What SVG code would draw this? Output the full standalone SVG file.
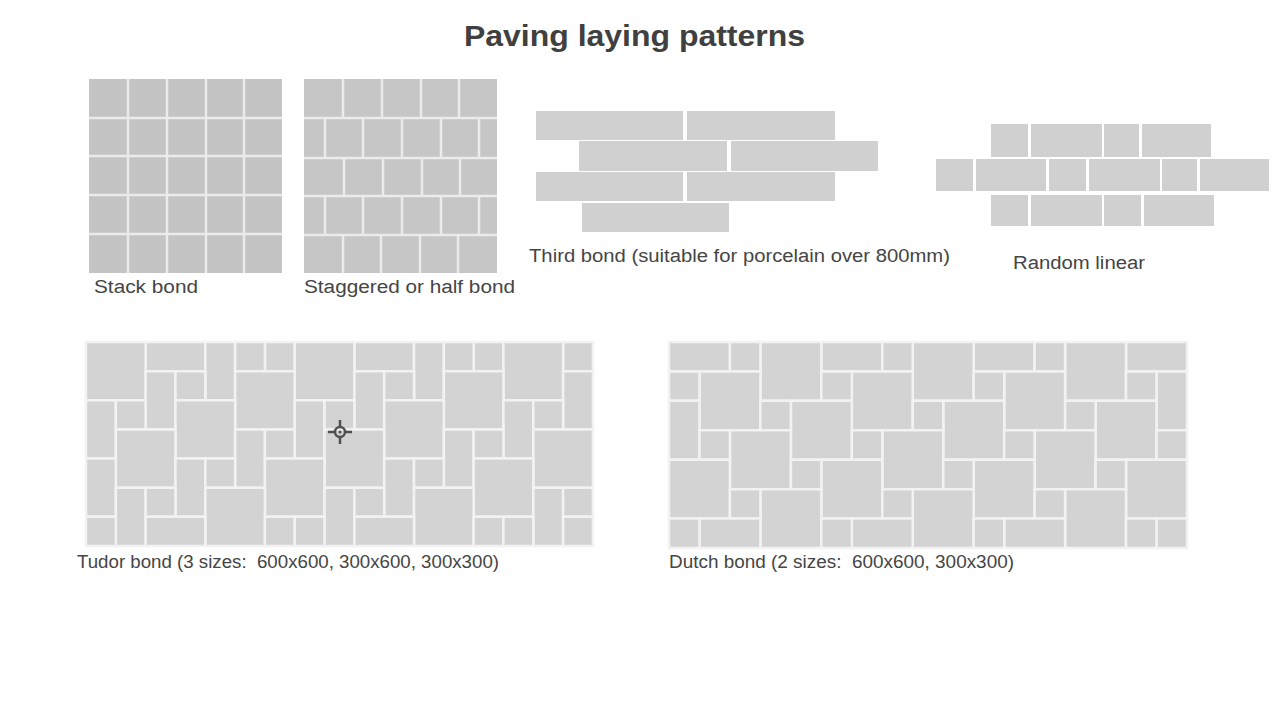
<svg xmlns="http://www.w3.org/2000/svg" width="1280" height="720" viewBox="0 0 1280 720">
<style>
.title{font-family:"Liberation Sans",Arial,sans-serif;font-weight:bold;font-size:30px;fill:#404040}
.lbl{font-family:"Liberation Sans",Arial,sans-serif;font-size:18px;fill:#454545}
.j{stroke:#ebebeb;stroke-width:2.5}
.tb{fill:#d0d0d0}
.tt{fill:#d3d3d3;stroke:#f2f2f2;stroke-width:2.5;vector-effect:non-scaling-stroke}
</style>
<rect width="1280" height="720" fill="#ffffff"/>
<text class="title" x="464" y="46" textLength="341" lengthAdjust="spacingAndGlyphs">Paving laying patterns</text>

<g id="stack-bond">
<rect x="89" y="79" width="193" height="194" fill="#c4c4c4"/>
<g class="j">
<line x1="128" y1="79" x2="128" y2="273"/><line x1="167" y1="79" x2="167" y2="273"/><line x1="206" y1="79" x2="206" y2="273"/><line x1="244" y1="79" x2="244" y2="273"/>
<line x1="89" y1="118" x2="282" y2="118"/><line x1="89" y1="156" x2="282" y2="156"/><line x1="89" y1="195" x2="282" y2="195"/><line x1="89" y1="234" x2="282" y2="234"/>
</g>
<text class="lbl" x="94" y="293" textLength="104" lengthAdjust="spacingAndGlyphs">Stack bond</text>
</g>

<g id="staggered-bond">
<rect x="304" y="79" width="193" height="194" fill="#c6c6c6"/>
<g class="j">
<line x1="304" y1="118" x2="497" y2="118"/><line x1="304" y1="158" x2="497" y2="158"/><line x1="304" y1="196" x2="497" y2="196"/><line x1="304" y1="235" x2="497" y2="235"/>
<line x1="343" y1="79" x2="343" y2="118"/><line x1="382" y1="79" x2="382" y2="118"/><line x1="421" y1="79" x2="421" y2="118"/><line x1="459" y1="79" x2="459" y2="118"/>
<line x1="325" y1="118" x2="325" y2="158"/><line x1="363" y1="118" x2="363" y2="158"/><line x1="402" y1="118" x2="402" y2="158"/><line x1="441" y1="118" x2="441" y2="158"/><line x1="479" y1="118" x2="479" y2="158"/>
<line x1="344" y1="158" x2="344" y2="196"/><line x1="383" y1="158" x2="383" y2="196"/><line x1="422" y1="158" x2="422" y2="196"/><line x1="460" y1="158" x2="460" y2="196"/>
<line x1="325" y1="196" x2="325" y2="235"/><line x1="363" y1="196" x2="363" y2="235"/><line x1="402" y1="196" x2="402" y2="235"/><line x1="441" y1="196" x2="441" y2="235"/><line x1="479" y1="196" x2="479" y2="235"/>
<line x1="343" y1="235" x2="343" y2="273"/><line x1="381" y1="235" x2="381" y2="273"/><line x1="420" y1="235" x2="420" y2="273"/><line x1="458" y1="235" x2="458" y2="273"/>
</g>
<text class="lbl" x="304" y="293" textLength="211" lengthAdjust="spacingAndGlyphs">Staggered or half bond</text>
</g>

<g id="third-bond">
<g class="tb">
<rect x="536" y="111" width="147" height="29"/><rect x="687" y="111" width="148" height="29"/>
<rect x="579" y="141" width="148" height="30"/><rect x="731" y="141" width="147" height="30"/>
<rect x="536" y="172" width="147" height="29"/><rect x="687" y="172" width="148" height="29"/>
<rect x="582" y="203" width="147" height="29"/>
</g>
<text class="lbl" x="529" y="262" textLength="421" lengthAdjust="spacingAndGlyphs">Third bond (suitable for porcelain over 800mm)</text>
</g>

<g id="random-linear">
<g class="tb">
<rect x="991" y="124" width="37" height="33"/><rect x="1031" y="124" width="71" height="33"/><rect x="1104" y="124" width="35" height="33"/><rect x="1142" y="124" width="69" height="33"/>
<rect x="936" y="159" width="37" height="32"/><rect x="976" y="159" width="70" height="32"/><rect x="1049" y="159" width="37" height="32"/><rect x="1089" y="159" width="71" height="32"/><rect x="1162" y="159" width="35" height="32"/><rect x="1200" y="159" width="69" height="32"/>
<rect x="991" y="195" width="37" height="31"/><rect x="1031" y="195" width="71" height="31"/><rect x="1104" y="195" width="37" height="31"/><rect x="1144" y="195" width="70" height="31"/>
</g>
<text class="lbl" x="1013" y="269" textLength="132" lengthAdjust="spacingAndGlyphs">Random linear</text>
</g>

<g id="tudor-bond">
<g transform="translate(86,342) scale(29.82,29.14)">
<rect class="tt" x="2" y="0" width="2" height="1"/><rect class="tt" x="9" y="0" width="2" height="1"/><rect class="tt" x="16" y="0" width="1" height="1"/><rect class="tt" x="6" y="0" width="1" height="1"/><rect class="tt" x="13" y="0" width="1" height="1"/>
<rect class="tt" x="0" y="0" width="2" height="2"/><rect class="tt" x="7" y="0" width="2" height="2"/><rect class="tt" x="14" y="0" width="2" height="2"/><rect class="tt" x="4" y="0" width="1" height="2"/><rect class="tt" x="11" y="0" width="1" height="2"/><rect class="tt" x="5" y="0" width="1" height="1"/><rect class="tt" x="12" y="0" width="1" height="1"/>
<rect class="tt" x="5" y="1" width="2" height="2"/><rect class="tt" x="12" y="1" width="2" height="2"/><rect class="tt" x="2" y="1" width="1" height="2"/><rect class="tt" x="9" y="1" width="1" height="2"/><rect class="tt" x="16" y="1" width="1" height="2"/><rect class="tt" x="3" y="1" width="1" height="1"/><rect class="tt" x="10" y="1" width="1" height="1"/>
<rect class="tt" x="3" y="2" width="2" height="2"/><rect class="tt" x="10" y="2" width="2" height="2"/><rect class="tt" x="0" y="2" width="1" height="2"/><rect class="tt" x="7" y="2" width="1" height="2"/><rect class="tt" x="14" y="2" width="1" height="2"/><rect class="tt" x="1" y="2" width="1" height="1"/><rect class="tt" x="8" y="2" width="1" height="1"/><rect class="tt" x="15" y="2" width="1" height="1"/>
<rect class="tt" x="1" y="3" width="2" height="2"/><rect class="tt" x="8" y="3" width="2" height="2"/><rect class="tt" x="15" y="3" width="2" height="2"/><rect class="tt" x="5" y="3" width="1" height="2"/><rect class="tt" x="12" y="3" width="1" height="2"/><rect class="tt" x="6" y="3" width="1" height="1"/><rect class="tt" x="13" y="3" width="1" height="1"/>
<rect class="tt" x="0" y="4" width="1" height="2"/><rect class="tt" x="6" y="4" width="2" height="2"/><rect class="tt" x="13" y="4" width="2" height="2"/><rect class="tt" x="3" y="4" width="1" height="2"/><rect class="tt" x="10" y="4" width="1" height="2"/><rect class="tt" x="4" y="4" width="1" height="1"/><rect class="tt" x="11" y="4" width="1" height="1"/>
<rect class="tt" x="4" y="5" width="2" height="2"/><rect class="tt" x="11" y="5" width="2" height="2"/><rect class="tt" x="1" y="5" width="1" height="2"/><rect class="tt" x="8" y="5" width="1" height="2"/><rect class="tt" x="15" y="5" width="1" height="2"/><rect class="tt" x="2" y="5" width="1" height="1"/><rect class="tt" x="9" y="5" width="1" height="1"/><rect class="tt" x="16" y="5" width="1" height="1"/>
<rect class="tt" x="2" y="6" width="2" height="1"/><rect class="tt" x="9" y="6" width="2" height="1"/><rect class="tt" x="16" y="6" width="1" height="1"/><rect class="tt" x="6" y="6" width="1" height="1"/><rect class="tt" x="13" y="6" width="1" height="1"/><rect class="tt" x="0" y="6" width="1" height="1"/><rect class="tt" x="7" y="6" width="1" height="1"/><rect class="tt" x="14" y="6" width="1" height="1"/>
</g>
<g id="crosshair" stroke="#505050" fill="none">
<circle cx="340" cy="432" r="5" stroke-width="2.5"/>
<circle cx="340" cy="432" r="1.5" fill="#505050" stroke="none"/>
<line x1="340" y1="420" x2="340" y2="427" stroke-width="2.5"/><line x1="340" y1="437" x2="340" y2="444" stroke-width="2.5"/>
<line x1="328" y1="432" x2="335" y2="432" stroke-width="2.5"/><line x1="345" y1="432" x2="352" y2="432" stroke-width="2.5"/>
</g>
<text class="lbl" x="77" y="568" textLength="422" lengthAdjust="spacingAndGlyphs" xml:space="preserve">Tudor bond (3 sizes:  600x600, 300x600, 300x300)</text>
</g>

<g id="dutch-bond">
<g transform="translate(669,342) scale(30.47,29.43)">
<rect class="tt" x="0" y="0" width="2" height="1"/><rect class="tt" x="5" y="0" width="2" height="1"/><rect class="tt" x="10" y="0" width="2" height="1"/><rect class="tt" x="15" y="0" width="2" height="1"/>
<rect class="tt" x="3" y="0" width="2" height="2"/><rect class="tt" x="8" y="0" width="2" height="2"/><rect class="tt" x="13" y="0" width="2" height="2"/>
<rect class="tt" x="2" y="0" width="1" height="1"/><rect class="tt" x="7" y="0" width="1" height="1"/><rect class="tt" x="12" y="0" width="1" height="1"/>
<rect class="tt" x="1" y="1" width="2" height="2"/><rect class="tt" x="6" y="1" width="2" height="2"/><rect class="tt" x="11" y="1" width="2" height="2"/><rect class="tt" x="16" y="1" width="1" height="2"/>
<rect class="tt" x="0" y="1" width="1" height="1"/><rect class="tt" x="5" y="1" width="1" height="1"/><rect class="tt" x="10" y="1" width="1" height="1"/><rect class="tt" x="15" y="1" width="1" height="1"/>
<rect class="tt" x="0" y="2" width="1" height="2"/><rect class="tt" x="4" y="2" width="2" height="2"/><rect class="tt" x="9" y="2" width="2" height="2"/><rect class="tt" x="14" y="2" width="2" height="2"/>
<rect class="tt" x="3" y="2" width="1" height="1"/><rect class="tt" x="8" y="2" width="1" height="1"/><rect class="tt" x="13" y="2" width="1" height="1"/>
<rect class="tt" x="2" y="3" width="2" height="2"/><rect class="tt" x="7" y="3" width="2" height="2"/><rect class="tt" x="12" y="3" width="2" height="2"/>
<rect class="tt" x="1" y="3" width="1" height="1"/><rect class="tt" x="6" y="3" width="1" height="1"/><rect class="tt" x="11" y="3" width="1" height="1"/><rect class="tt" x="16" y="3" width="1" height="1"/>
<rect class="tt" x="0" y="4" width="2" height="2"/><rect class="tt" x="5" y="4" width="2" height="2"/><rect class="tt" x="10" y="4" width="2" height="2"/><rect class="tt" x="15" y="4" width="2" height="2"/>
<rect class="tt" x="4" y="4" width="1" height="1"/><rect class="tt" x="9" y="4" width="1" height="1"/><rect class="tt" x="14" y="4" width="1" height="1"/>
<rect class="tt" x="3" y="5" width="2" height="2"/><rect class="tt" x="8" y="5" width="2" height="2"/><rect class="tt" x="13" y="5" width="2" height="2"/>
<rect class="tt" x="2" y="5" width="1" height="1"/><rect class="tt" x="7" y="5" width="1" height="1"/><rect class="tt" x="12" y="5" width="1" height="1"/>
<rect class="tt" x="1" y="6" width="2" height="1"/><rect class="tt" x="6" y="6" width="2" height="1"/><rect class="tt" x="11" y="6" width="2" height="1"/><rect class="tt" x="16" y="6" width="1" height="1"/>
<rect class="tt" x="0" y="6" width="1" height="1"/><rect class="tt" x="5" y="6" width="1" height="1"/><rect class="tt" x="10" y="6" width="1" height="1"/><rect class="tt" x="15" y="6" width="1" height="1"/>
</g>
<text class="lbl" x="669" y="568" textLength="345" lengthAdjust="spacingAndGlyphs" xml:space="preserve">Dutch bond (2 sizes:  600x600, 300x300)</text>
</g>
</svg>
